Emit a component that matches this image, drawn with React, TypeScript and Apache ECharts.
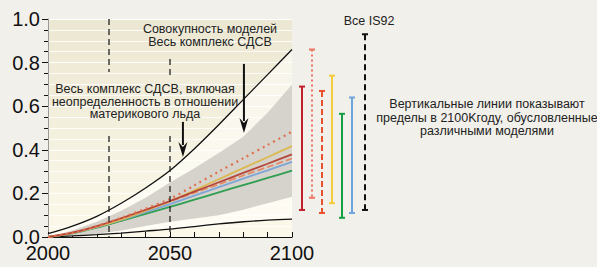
import React, { useEffect, useRef } from "react";
import * as echarts from "echarts";

// ---- Data ----
const years = [2000, 2010, 2020, 2030, 2040, 2050, 2060, 2070, 2080, 2090, 2100];

// Envelope "Весь комплекс СДСВ, включая неопределенность..." (black curves)
const envelopeUpper = [0.015, 0.05, 0.095, 0.155, 0.225, 0.305, 0.405, 0.515, 0.63, 0.745, 0.86];
const envelopeLower = [0.0, 0.005, 0.011, 0.018, 0.027, 0.036, 0.048, 0.06, 0.07, 0.077, 0.082];

// Gray band "Совокупность моделей, весь комплекс СДСВ"
const bandUpper = [0.0, 0.03, 0.07, 0.12, 0.18, 0.25, 0.315, 0.385, 0.46, 0.57, 0.7];
const bandLower = [0.0, 0.005, 0.015, 0.03, 0.05, 0.07, 0.085, 0.1, 0.125, 0.155, 0.185];

// Model average curves
const dottedModel = [0.0, 0.02, 0.05, 0.088, 0.13, 0.175, 0.237, 0.3, 0.361, 0.422, 0.483];
const yellowModel = [0.0, 0.018, 0.046, 0.08, 0.12, 0.163, 0.214, 0.265, 0.316, 0.366, 0.417];
const redModel = [0.0, 0.02, 0.05, 0.086, 0.125, 0.165, 0.208, 0.251, 0.294, 0.336, 0.379];
const dashedModel = [0.0, 0.02, 0.049, 0.085, 0.124, 0.163, 0.203, 0.242, 0.282, 0.321, 0.36];
const blueModel = [0.0, 0.018, 0.045, 0.078, 0.114, 0.151, 0.19, 0.229, 0.268, 0.306, 0.345];
const greenModel = [0.0, 0.017, 0.043, 0.074, 0.106, 0.138, 0.171, 0.205, 0.238, 0.271, 0.304];

// Ranges in 2100 by model (vertical bars on the right)
const rangeSlots = [1, 2, 3, 4, 5, 6, 7.3];
const rangeLows = [0.124, 0.18, 0.11, 0.155, 0.088, 0.11, 0.124];
const rangeHighs = [0.69, 0.86, 0.67, 0.74, 0.565, 0.64, 0.93];
const rangeColors = ["#c0202c", "#f07060", "#e8502e", "#f2cc3a", "#14a043", "#6fa3de", "#111111"];
const rangeDashes: (number[] | null)[] = [null, [2, 3], [6, 3], null, null, null, [6, 4]];

// Dashed vertical reference segments [year, from, to]
const refSegments = [
  [2025, 1.0, 0.757],
  [2025, 0.463, 0.0],
  [2050, 0.817, 0.743],
  [2050, 0.463, 0.0],
];

// Arrows [year, from, to]
const arrows = [
  [2055.3, 0.528, 0.367],
  [2080.3, 0.794, 0.477],
];

const FONT = '"Liberation Sans", Arial, Helvetica, sans-serif';

const pair = (vals: number[]) => years.map((y, i) => [y, vals[i]]);

// custom series drawing a filled band between two value arrays
const bandSeries = (upper: number[], lower: number[], fill: string, z: number) => ({
  type: "custom",
  xAxisIndex: 0,
  yAxisIndex: 0,
  z,
  silent: true,
  data: [[years[0], lower[0]]],
  renderItem: (params: any, api: any) => {
    const top = years.map((y, i) => api.coord([y, upper[i]]));
    const bot = years.map((y, i) => api.coord([y, lower[i]])).reverse();
    return {
      type: "polygon",
      shape: { points: top.concat(bot) },
      style: { fill },
    };
  },
});

export default function App() {
  const ref = useRef<HTMLDivElement>(null);

  useEffect(() => {
    if (!ref.current) return;
    const chart = echarts.init(ref.current, undefined, { renderer: "svg" });

    const modelLine = (name: string, vals: number[], color: string, type: any, width = 1.8) => ({
      name,
      type: "line",
      data: pair(vals),
      smooth: 0.3,
      symbol: "none",
      lineStyle: { color, width, type },
      z: 5,
    });

    const textStyle = (text: string, lineHeight = 13) => ({
      text,
      fontSize: 12.5,
      fontFamily: FONT,
      lineHeight,
      fill: "#222",
      textAlign: "center",
      textVerticalAlign: "middle",
    });

    const option: any = {
      animation: false,
      backgroundColor: "#f2f0eb",
      textStyle: { fontFamily: FONT },
      grid: [
        {
          left: 48,
          top: 19,
          width: 244,
          height: 218,
          show: true,
          borderWidth: 0,
          backgroundColor: new echarts.graphic.LinearGradient(0, 0, 0, 1, [
            { offset: 0, color: "#ebe7d2" },
            { offset: 1, color: "#fdf9ea" },
          ]),
        },
        { left: 292, top: 19, width: 88, height: 218, show: false },
      ],
      xAxis: [
        {
          type: "value",
          gridIndex: 0,
          min: 2000,
          max: 2100,
          interval: 50,
          axisLine: { show: true, lineStyle: { color: "#111", width: 1.2 } },
          axisTick: { show: true, inside: true, length: 5, lineStyle: { color: "#111" } },
          minorTick: { show: true, splitNumber: 5, length: 5, lineStyle: { color: "#111" } },
          splitLine: { show: false },
          axisLabel: {
            fontSize: 20,
            lineHeight: 16,
            color: "#111",
            margin: 8,
            fontFamily: FONT,
            formatter: (v: number) => String(v),
          },
        },
        { type: "value", gridIndex: 1, min: 0, max: 8.8, show: false },
      ],
      yAxis: [
        {
          type: "value",
          gridIndex: 0,
          min: 0,
          max: 1,
          interval: 0.2,
          axisLine: { show: true, lineStyle: { color: "#999", width: 1 } },
          axisTick: { show: true, inside: false, length: 6, lineStyle: { color: "#111" } },
          minorTick: { show: true, splitNumber: 4, length: 4, lineStyle: { color: "#111" } },
          splitLine: { show: true, lineStyle: { color: "#ffffff", width: 1.2 } },
          minorSplitLine: { show: true, lineStyle: { color: "#ffffff", width: 1.2, opacity: 0.85 } },
          axisLabel: {
            fontSize: 20,
            lineHeight: 12,
            color: "#111",
            margin: 8,
            fontFamily: FONT,
            formatter: (v: number) => v.toFixed(1),
          },
        },
        { type: "value", gridIndex: 1, min: 0, max: 1, show: false },
      ],
      series: [
        bandSeries(envelopeUpper, envelopeLower, "rgba(255,255,252,0.55)", 1),
        bandSeries(bandUpper, bandLower, "#d5d3cb", 2),
        // black envelope curves
        { type: "line", data: pair(envelopeUpper), smooth: 0.3, symbol: "none", lineStyle: { color: "#111", width: 1.3 }, z: 4 },
        { type: "line", data: pair(envelopeLower), smooth: 0.3, symbol: "none", lineStyle: { color: "#111", width: 1.3 }, z: 4 },
        // model means
        modelLine("green", greenModel, "#2f9e52", "solid"),
        modelLine("blue", blueModel, "#7ea6d6", "solid"),
        modelLine("yellow", yellowModel, "#dcb850", "solid"),
        modelLine("dashed", dashedModel, "#e58a68", [7, 3]),
        modelLine("red", redModel, "#b5473a", "solid"),
        modelLine("dotted", dottedModel, "#e0704f", [2, 4], 2.2),
        // dashed reference lines
        {
          type: "custom",
          xAxisIndex: 0,
          yAxisIndex: 0,
          clip: false,
          z: 6,
          data: refSegments,
          renderItem: (params: any, api: any) => {
            const p1 = api.coord([api.value(0), api.value(1)]);
            const p2 = api.coord([api.value(0), api.value(2)]);
            return {
              type: "line",
              shape: { x1: p1[0], y1: p1[1], x2: p2[0], y2: p2[1] },
              style: { stroke: "#222", lineWidth: 1.3, lineDash: [6, 4] },
            };
          },
        },
        // arrows
        {
          type: "custom",
          xAxisIndex: 0,
          yAxisIndex: 0,
          clip: false,
          z: 7,
          data: arrows,
          renderItem: (params: any, api: any) => {
            const p1 = api.coord([api.value(0), api.value(1)]);
            const p2 = api.coord([api.value(0), api.value(2)]);
            const hh = 15;
            const hw = 9;
            return {
              type: "group",
              children: [
                {
                  type: "line",
                  shape: { x1: p1[0], y1: p1[1], x2: p2[0], y2: p2[1] - hh + 3 },
                  style: { stroke: "#111", lineWidth: 2 },
                },
                {
                  type: "polygon",
                  shape: {
                    points: [
                      [p2[0], p2[1]],
                      [p2[0] - hw / 2, p2[1] - hh],
                      [p2[0], p2[1] - hh + 5],
                      [p2[0] + hw / 2, p2[1] - hh],
                    ],
                  },
                  style: { fill: "#111" },
                },
              ],
            };
          },
        },
        // range bars in 2100
        {
          type: "custom",
          xAxisIndex: 1,
          yAxisIndex: 1,
          clip: false,
          z: 5,
          data: rangeSlots.map((s, i) => [s, rangeLows[i], rangeHighs[i]]),
          renderItem: (params: any, api: any) => {
            const i = params.dataIndex;
            const lo = api.coord([api.value(0), api.value(1)]);
            const hi = api.coord([api.value(0), api.value(2)]);
            const color = rangeColors[i];
            const dash = rangeDashes[i];
            const cw = 3;
            return {
              type: "group",
              children: [
                {
                  type: "line",
                  shape: { x1: hi[0], y1: hi[1], x2: lo[0], y2: lo[1] },
                  style: { stroke: color, lineWidth: 2, lineDash: dash || undefined },
                },
                {
                  type: "line",
                  shape: { x1: hi[0] - cw, y1: hi[1], x2: hi[0] + cw, y2: hi[1] },
                  style: { stroke: color, lineWidth: 2 },
                },
                {
                  type: "line",
                  shape: { x1: lo[0] - cw, y1: lo[1], x2: lo[0] + cw, y2: lo[1] },
                  style: { stroke: color, lineWidth: 2 },
                },
              ],
            };
          },
        },
      ],
      graphic: [
        {
          type: "text",
          x: 210,
          y: 35.5,
          z: 10,
          style: textStyle("Совокупность моделей\nВесь комплекс СДСВ", 13),
        },
        {
          type: "text",
          x: 145,
          y: 101.5,
          z: 10,
          style: textStyle("Весь комплекс СДСВ, включая\nнеопределенность в отношении\nматерикового льда", 12.7),
        },
        {
          type: "text",
          x: 369,
          y: 21,
          z: 10,
          style: textStyle("Все IS92"),
        },
        {
          type: "text",
          x: 487,
          y: 117.5,
          z: 10,
          style: textStyle("Вертикальные линии показывают\nпределы в 2100Kгоду, обусловленные\nразличными моделями", 13.5),
        },
      ],
    };

    chart.setOption(option);
    return () => chart.dispose();
  }, []);

  return (
    <div
      ref={ref}
      style={{ position: "absolute", left: 0, top: 0, width: 597, height: 267 }}
    />
  );
}
